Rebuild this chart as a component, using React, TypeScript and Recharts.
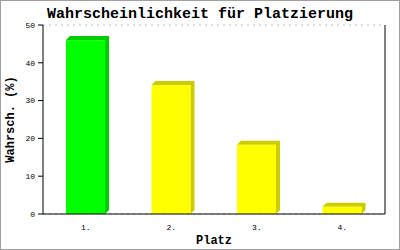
import React from "react";
import { BarChart, Bar, XAxis, YAxis, CartesianGrid, Cell, Label } from "recharts";

const categories = ["1.", "2.", "3.", "4."];
const probabilities = [46, 34.1, 18.3, 1.9];
const frontColors = ["#00ff00", "#ffff00", "#ffff00", "#ffff00"];
const sideColors = ["#00cc00", "#cccc00", "#cccc00", "#cccc00"];
const yTicks = [0, 10, 20, 30, 40, 50];

const data = categories.map((c, i) => ({ name: c, value: probabilities[i], idx: i }));

const FONT = "'Liberation Mono', 'DejaVu Sans Mono', monospace";

const Bar3D = (props: any) => {
  const { x, y, width, height, payload } = props;
  const i = payload?.idx ?? 0;
  const d = 4;
  const side = `M${x},${y} L${x + d},${y - d} L${x + width + d},${y - d} L${x + width + d},${y + height - d} L${x + width},${y + height} L${x + width},${y} Z`;
  return (
    <g>
      <path d={side} fill={sideColors[i]} />
      <rect x={x} y={y} width={width} height={height} fill={frontColors[i]} />
    </g>
  );
};

export default function App() {
  return (
    <div style={{ position: "absolute", left: 0, top: 0, width: 400, height: 250, background: "#fff" }}>
      <BarChart
        width={400}
        height={250}
        data={data}
        margin={{ top: 25, right: 0, bottom: 0, left: 0 }}
        barSize={39}
      >
        <text x={200} y={18} textAnchor="middle" fontFamily={FONT} fontWeight="bold" fontSize={15} fill="#000">
          Wahrscheinlichkeit für Platzierung
        </text>
        <CartesianGrid vertical={false} stroke="#bbbbbb" strokeDasharray="2 4" />
        <XAxis
          dataKey="name"
          height={36}
          tickLine={false}
          axisLine={{ stroke: "#000" }}
          tick={{ fontFamily: FONT, fontSize: 8, fill: "#000" }}
          tickMargin={4}
        >
          <Label value="Platz" position="insideBottom" offset={6} style={{ fontFamily: FONT, fontSize: 12, fontWeight: "bold", fill: "#000" }} />
        </XAxis>
        <YAxis
          yAxisId="left"
          width={43}
          domain={[0, 50]}
          ticks={yTicks}
          interval={0}
          tickSize={5}
          tickMargin={3}
          tickLine={{ stroke: "#000" }}
          axisLine={{ stroke: "#000" }}
          tick={{ fontFamily: FONT, fontSize: 8, fill: "#000" }}
        >
          <Label value="Wahrsch. (%)" angle={-90} position="insideLeft" offset={10} style={{ fontFamily: FONT, fontSize: 12, fontWeight: "bold", fill: "#000", textAnchor: "middle" }} />
        </YAxis>
        <YAxis yAxisId="right" orientation="right" width={15} tick={false} tickLine={false} axisLine={{ stroke: "#000" }} domain={[0, 50]} />
        <Bar yAxisId="left" dataKey="value" isAnimationActive={false} shape={<Bar3D />}>
          {data.map((d, i) => (
            <Cell key={i} fill={frontColors[i]} />
          ))}
        </Bar>
      </BarChart>
      <div style={{ position: "absolute", left: 0, top: 0, width: 400, height: 250, boxSizing: "border-box", border: "1px solid #a0a0a0", pointerEvents: "none" }} />
    </div>
  );
}
